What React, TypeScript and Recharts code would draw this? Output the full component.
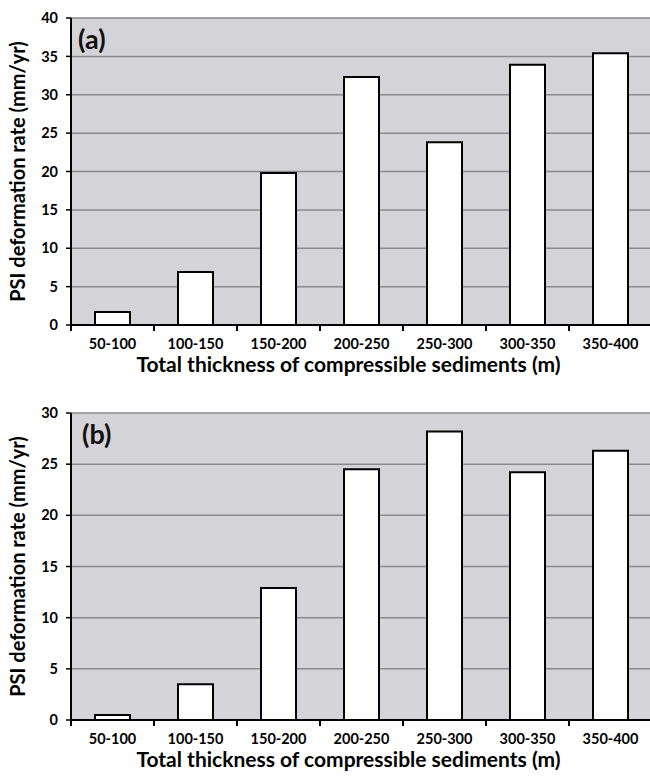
import React from "react";
import { BarChart, Bar, XAxis, YAxis, CartesianGrid, Label } from "recharts";

const categories = ["50-100", "100-150", "150-200", "200-250", "250-300", "300-350", "350-400"];
const rateA = [1.7, 6.9, 19.8, 32.3, 23.8, 33.9, 35.4];
const rateB = [0.5, 3.5, 12.9, 24.5, 28.2, 24.2, 26.3];
const ticksA = [0, 5, 10, 15, 20, 25, 30, 35, 40];
const ticksB = [0, 5, 10, 15, 20, 25, 30];

const FONT = "Lato, 'Open Sans', sans-serif";
const CHART_W = 660;
const AXIS_W = 71;
const RIGHT = 8;
const PLOT_H = 307;
const X_AXIS_H = 30;
const BAND = (CHART_W - AXIS_W - RIGHT) / categories.length;

// category label at the band centre, tick mark on the band's left edge
function CategoryTick(props: any) {
  const { x, y, payload } = props;
  const left = x - BAND / 2;
  return (
    <g>
      <line x1={left} x2={left} y1={y} y2={y + 6} stroke="#000" strokeWidth={2} />
      <text
        x={x}
        y={y + 24}
        textAnchor="middle"
        fill="#000"
        fontSize={14.5}
        fontWeight={700}
        fontFamily={FONT}
      >
        {payload.value}
      </text>
    </g>
  );
}

interface PanelProps {
  values: number[];
  ticks: number[];
  letter: string;
  letterX: number;
  height: number;
  top: number;
}

function Panel({ values, ticks, letter, letterX, height, top }: PanelProps) {
  const data = categories.map((c, i) => ({ range: c, rate: values[i] }));
  const max = ticks[ticks.length - 1];
  const bottom = height - top - PLOT_H - X_AXIS_H;
  const textStyle = { fontFamily: FONT, fontWeight: 700, fill: "#000" };

  return (
    <BarChart
      width={CHART_W}
      height={height}
      data={data}
      margin={{ top, right: RIGHT, left: 0, bottom }}
    >
      <CartesianGrid
        vertical={false}
        stroke="#8a8a8a"
        strokeWidth={1.5}
        fill="#d4d3d8"
        fillOpacity={1}
      />
      <XAxis
        dataKey="range"
        height={X_AXIS_H}
        interval={0}
        tickSize={0}
        tickMargin={0}
        tickLine={false}
        axisLine={{ stroke: "#000", strokeWidth: 2 }}
        tick={<CategoryTick />}
      >
        <Label
          value="Total thickness of compressible sediments (m)"
          position="bottom"
          offset={2}
          dx={-13}
          style={{ ...textStyle, fontSize: 21 }}
        />
      </XAxis>
      <YAxis
        width={AXIS_W}
        domain={[0, max]}
        ticks={ticks}
        interval={0}
        tickSize={5}
        tickMargin={8}
        axisLine={{ stroke: "#000", strokeWidth: 2 }}
        tickLine={{ stroke: "#000", strokeWidth: 1.5 }}
        tick={{ fill: "#000", fontSize: 14.5, fontWeight: 700, fontFamily: FONT }}
      >
        <Label
          value="PSI deformation rate (mm/yr)"
          angle={-90}
          position="insideLeft"
          offset={18}
          style={{ ...textStyle, fontSize: 20, textAnchor: "middle" }}
        />
        <Label
          value={letter}
          position="insideTopLeft"
          offset={0}
          dx={letterX}
          dy={12}
          style={{ ...textStyle, fontSize: 27, fill: "#111" }}
        />
      </YAxis>
      <Bar
        dataKey="rate"
        fill="#ffffff"
        stroke="#000"
        strokeWidth={2}
        barSize={35}
        isAnimationActive={false}
      />
    </BarChart>
  );
}

export default function App() {
  return (
    <div
      style={{
        position: "absolute",
        left: 0,
        top: 0,
        width: 650,
        height: 776,
        overflow: "hidden",
        background: "#fff",
      }}
    >
      <Panel values={rateA} ticks={ticksA} letter="(a)" letterX={78} height={393} top={18} />
      <Panel values={rateB} ticks={ticksB} letter="(b)" letterX={82} height={383} top={20} />
    </div>
  );
}
